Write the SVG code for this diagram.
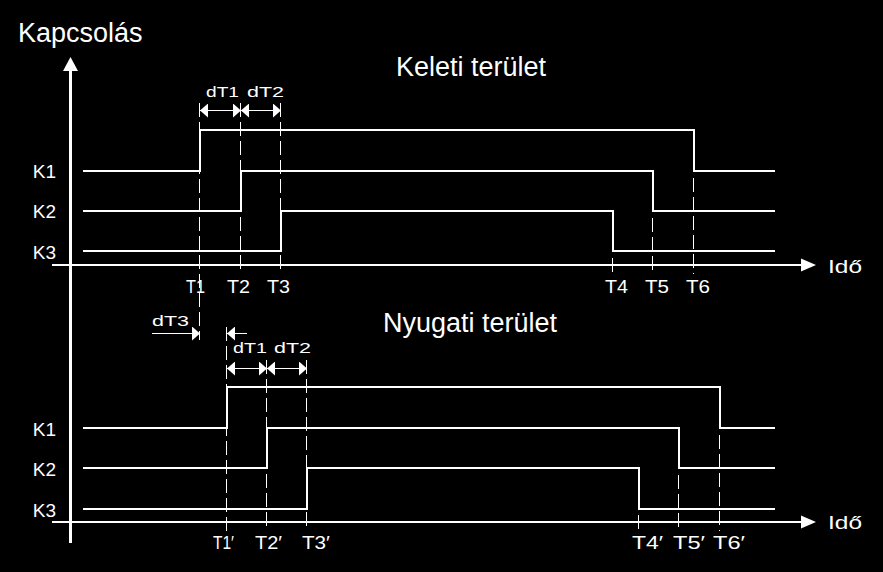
<svg xmlns="http://www.w3.org/2000/svg" width="883" height="572" viewBox="0 0 883 572">
<style>
.bg{fill:#000}
.ax{stroke:#fff;stroke-width:2;fill:none}
.ay{stroke:#fff;stroke-width:3;fill:none}
.sig{stroke:#fff;stroke-width:2;fill:none;stroke-linejoin:miter}
.dash{stroke:#fff;stroke-width:1;fill:none;stroke-dasharray:14 5}
.dim{stroke:#fff;stroke-width:1;fill:none}
.ah{fill:#fff}
.big{font-family:"Liberation Sans",Arial,sans-serif;font-size:27px;fill:#fff}
.sm{font-family:"Liberation Sans",Arial,sans-serif;font-size:19px;fill:#fff}
.xs{font-family:"Liberation Sans",Arial,sans-serif;font-size:15.5px;fill:#fff}
</style>
<defs>
<marker id="dimR" viewBox="0 0 8 14" refX="8" refY="7" markerWidth="8" markerHeight="14" markerUnits="userSpaceOnUse" orient="auto"><path d="M0,0 L8,7 L0,14 Z" fill="#fff"/></marker>
<marker id="dimL" viewBox="0 0 8 14" refX="0" refY="7" markerWidth="8" markerHeight="14" markerUnits="userSpaceOnUse" orient="auto"><path d="M8,0 L0,7 L8,14 Z" fill="#fff"/></marker>
</defs>
<rect class="bg" x="0" y="0" width="883" height="572"/>

<g id="axes">
<line class="ay" x1="70.5" y1="68" x2="70.5" y2="543"/>
<path class="ah" d="M70.5,57 L78,71 L63,71 Z"/>
<line class="ax" x1="52" y1="265" x2="803" y2="265"/>
<path class="ah" d="M816,265 L801,258.5 L801,271.5 Z"/>
<line class="ax" x1="52" y1="522" x2="803" y2="522"/>
<path class="ah" d="M816,522 L801,515.5 L801,528.5 Z"/>
<text class="big" x="18" y="42">Kapcsolás</text>
<text class="sm" x="828" y="273" textLength="34" lengthAdjust="spacingAndGlyphs">Idő</text>
<text class="sm" x="828" y="529" textLength="34" lengthAdjust="spacingAndGlyphs">Idő</text>
</g>

<g id="keleti">
<text class="big" x="396" y="76">Keleti terület</text>
<g id="keleti-signals">
<polyline class="sig" points="83,171 200,171 200,130 694,130 694,171 775,171"/>
<polyline class="sig" points="83,211 241,211 241,171 653,171 653,211 775,211"/>
<polyline class="sig" points="83,251 281,251 281,211 613,211 613,251 775,251"/>
</g>
<g id="keleti-labels">
<text class="sm" x="56" y="178" text-anchor="end">K1</text>
<text class="sm" x="56" y="218" text-anchor="end">K2</text>
<text class="sm" x="56" y="259" text-anchor="end">K3</text>
<text class="sm" x="186" y="293" textLength="19" lengthAdjust="spacingAndGlyphs">T1</text>
<text class="sm" x="227" y="293" textLength="23" lengthAdjust="spacingAndGlyphs">T2</text>
<text class="sm" x="267" y="293" textLength="23" lengthAdjust="spacingAndGlyphs">T3</text>
<text class="sm" x="605" y="293" textLength="23" lengthAdjust="spacingAndGlyphs">T4</text>
<text class="sm" x="645" y="293" textLength="24" lengthAdjust="spacingAndGlyphs">T5</text>
<text class="sm" x="686" y="293" textLength="24" lengthAdjust="spacingAndGlyphs">T6</text>
</g>
<g id="keleti-guides">
<line class="dash" x1="199.5" y1="103" x2="199.5" y2="340"/>
<line class="dash" x1="240.5" y1="103" x2="240.5" y2="274"/>
<line class="dash" x1="280.5" y1="103" x2="280.5" y2="274"/>
<line class="dash" x1="612.5" y1="258" x2="612.5" y2="274"/>
<line class="dash" x1="652.5" y1="218" x2="652.5" y2="274"/>
<line class="dash" x1="693.5" y1="178" x2="693.5" y2="274"/>
</g>
<g id="keleti-dims">
<line class="dim" x1="200" y1="110.5" x2="241" y2="110.5" marker-start="url(#dimL)" marker-end="url(#dimR)"/>
<line class="dim" x1="241" y1="110.5" x2="281" y2="110.5" marker-start="url(#dimL)" marker-end="url(#dimR)"/>
<text class="xs" x="206" y="97" textLength="33" lengthAdjust="spacingAndGlyphs">dT1</text>
<text class="xs" x="247" y="97" textLength="37" lengthAdjust="spacingAndGlyphs">dT2</text>
</g>
</g>

<g id="nyugati">
<text class="big" x="383" y="332">Nyugati terület</text>
<g id="nyugati-signals">
<polyline class="sig" points="83,428 227,428 227,387 720,387 720,428 775,428"/>
<polyline class="sig" points="83,468 267,468 267,428 679,428 679,468 775,468"/>
<polyline class="sig" points="83,509 307,509 307,468 639,468 639,509 775,509"/>
</g>
<g id="nyugati-labels">
<text class="sm" x="56" y="436" text-anchor="end">K1</text>
<text class="sm" x="56" y="476" text-anchor="end">K2</text>
<text class="sm" x="56" y="517" text-anchor="end">K3</text>
<text class="sm" x="213" y="549" textLength="21" lengthAdjust="spacingAndGlyphs">T1′</text>
<text class="sm" x="255" y="549" textLength="27" lengthAdjust="spacingAndGlyphs">T2′</text>
<text class="sm" x="302" y="549" textLength="28" lengthAdjust="spacingAndGlyphs">T3′</text>
<text class="sm" x="632" y="549" textLength="31" lengthAdjust="spacingAndGlyphs">T4′</text>
<text class="sm" x="673" y="549" textLength="32" lengthAdjust="spacingAndGlyphs">T5′</text>
<text class="sm" x="713" y="549" textLength="32" lengthAdjust="spacingAndGlyphs">T6′</text>
</g>
<g id="nyugati-guides">
<line class="dash" x1="226.5" y1="327" x2="226.5" y2="531"/>
<line class="dash" x1="266.5" y1="360" x2="266.5" y2="531"/>
<line class="dash" x1="306.5" y1="360" x2="306.5" y2="531"/>
<line class="dash" x1="638.5" y1="515" x2="638.5" y2="531"/>
<line class="dash" x1="678.5" y1="475" x2="678.5" y2="531"/>
<line class="dash" x1="719.5" y1="435" x2="719.5" y2="531"/>
</g>
<g id="nyugati-dims">
<line class="dim" x1="227" y1="368.5" x2="267" y2="368.5" marker-start="url(#dimL)" marker-end="url(#dimR)"/>
<line class="dim" x1="267" y1="368.5" x2="307" y2="368.5" marker-start="url(#dimL)" marker-end="url(#dimR)"/>
<text class="xs" x="233" y="353" textLength="34" lengthAdjust="spacingAndGlyphs">dT1</text>
<text class="xs" x="274" y="353" textLength="37" lengthAdjust="spacingAndGlyphs">dT2</text>
<line class="dim" x1="152" y1="333.5" x2="200" y2="333.5" marker-end="url(#dimR)"/>
<line class="dim" x1="227" y1="333.5" x2="247" y2="333.5" marker-start="url(#dimL)"/>
<text class="xs" x="152" y="326" textLength="37" lengthAdjust="spacingAndGlyphs">dT3</text>
</g>
</g>
</svg>
